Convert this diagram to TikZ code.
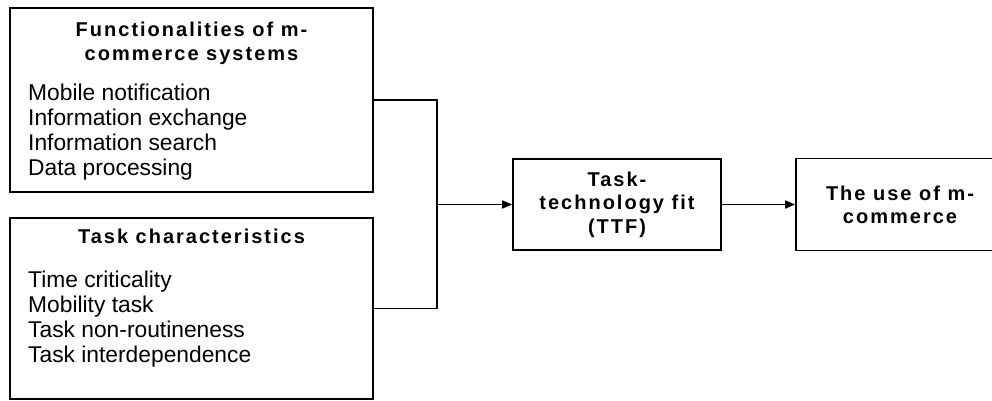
\documentclass[tikz,border=0pt]{standalone}
\usepackage{fontspec}
\setmainfont{Liberation Sans}
\newfontface\tfont[LetterSpace=10]{Liberation Sans Bold}
\usetikzlibrary{arrows.meta}
\tikzset{
  box/.style={draw=black, line width=1.7pt, rectangle, inner sep=0pt},
  ttl/.style={font=\tfont\fontsize{20}{24}\selectfont, align=center, inner sep=0pt},
  lst/.style={font=\fontsize{22.8}{25}\selectfont, align=left, inner sep=0pt, anchor=base west},
  conn/.style={draw=black, line width=1.5pt},
  arr/.style={conn, -{Triangle[length=10pt,width=8pt]}}
}
\begin{document}
\begin{tikzpicture}[x=1pt,y=-1pt]
\useasboundingbox (0,0) rectangle (992,401);
\clip (0,0) rectangle (992,401);
% left boxes
\node[box, minimum width=363pt, minimum height=184pt] (f) at (191.5,100) {};
\node[box, minimum width=363pt, minimum height=181pt] (t) at (191.5,308.5) {};
% multi-line nodes: base anchor = baseline of the last line
\node[ttl, anchor=base] (ft) at (191.5,60.7) {Functionalities of m-\\commerce systems};
\node[lst] (fl) at (28,175.5) {Mobile notification\\Information exchange\\Information search\\Data processing};
\node[ttl, anchor=base] (tt) at (191.5,243) {Task characteristics};
\node[lst] (tl) at (28,362) {Time criticality\\Mobility task\\Task non-routineness\\Task interdependence};
% right boxes
\node[box, minimum width=208pt, minimum height=91pt, ttl, font=\tfont\fontsize{20}{23.5}\selectfont] (ttf) at (617,204.5) {Task-\\technology fit\\(TTF)};
\node[box, minimum width=208pt, minimum height=92pt, ttl, font=\tfont\fontsize{20}{23}\selectfont] (use) at (900,204.5) {The use of m-\\commerce};
% connectors
\coordinate (j) at (437,204.5);
\draw[conn] (f.east) -| (j) |- (t.east);
\draw[arr] (j) -- (ttf.west);
\draw[arr] (ttf.east) -- (use.west);
\end{tikzpicture}
\end{document}
